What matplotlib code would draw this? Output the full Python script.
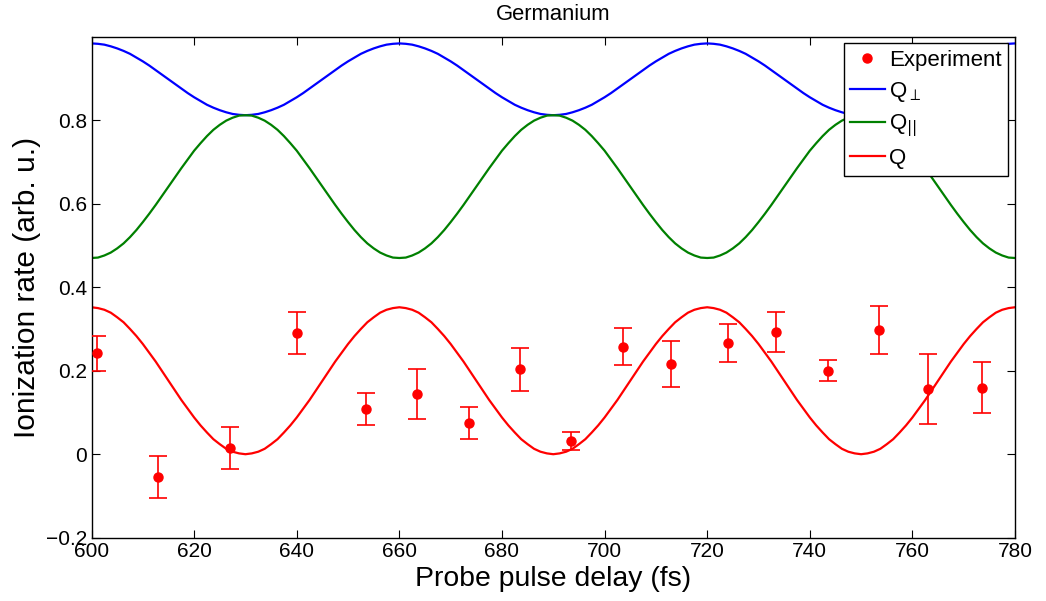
import numpy as np
import matplotlib
matplotlib.use("Agg")
import matplotlib.pyplot as plt
from matplotlib.lines import Line2D

plt.rcParams['font.family'] = ['Liberation Sans', 'DejaVu Sans']
plt.rcParams['mathtext.fontset'] = 'dejavusans'

curve_delay = np.arange(600, 780.01, 1.25)
q_perp = [
    0.984, 0.983, 0.981, 0.977, 0.972, 0.966, 0.959, 0.950, 0.941, 0.931, 0.920, 0.909,
    0.898, 0.887, 0.876, 0.865, 0.855, 0.846, 0.837, 0.830, 0.824, 0.819, 0.815, 0.813,
    0.812, 0.813, 0.815, 0.819, 0.824, 0.830, 0.837, 0.846, 0.855, 0.865, 0.876, 0.887,
    0.898, 0.909, 0.920, 0.931, 0.941, 0.950, 0.959, 0.966, 0.972, 0.977, 0.981, 0.983,
    0.984, 0.983, 0.981, 0.977, 0.972, 0.966, 0.959, 0.950, 0.941, 0.931, 0.920, 0.909,
    0.898, 0.887, 0.876, 0.865, 0.855, 0.846, 0.837, 0.830, 0.824, 0.819, 0.815, 0.813,
    0.812, 0.813, 0.815, 0.819, 0.824, 0.830, 0.837, 0.846, 0.855, 0.865, 0.876, 0.887,
    0.898, 0.909, 0.920, 0.931, 0.941, 0.950, 0.959, 0.966, 0.972, 0.977, 0.981, 0.983,
    0.984, 0.983, 0.981, 0.977, 0.972, 0.966, 0.959, 0.950, 0.941, 0.931, 0.920, 0.909,
    0.898, 0.887, 0.876, 0.865, 0.855, 0.846, 0.837, 0.830, 0.824, 0.819, 0.815, 0.813,
    0.812, 0.813, 0.815, 0.819, 0.824, 0.830, 0.837, 0.846, 0.855, 0.865, 0.876, 0.887,
    0.898, 0.909, 0.920, 0.931, 0.941, 0.950, 0.959, 0.966, 0.972, 0.977, 0.981, 0.983,
    0.984,
]
q_par = [
    0.470, 0.471, 0.476, 0.483, 0.493, 0.505, 0.520, 0.537, 0.556, 0.576, 0.597, 0.619,
    0.641, 0.663, 0.685, 0.706, 0.727, 0.745, 0.762, 0.777, 0.789, 0.799, 0.806, 0.811,
    0.812, 0.811, 0.806, 0.799, 0.789, 0.777, 0.762, 0.745, 0.727, 0.706, 0.685, 0.663,
    0.641, 0.619, 0.597, 0.576, 0.556, 0.537, 0.520, 0.505, 0.493, 0.483, 0.476, 0.471,
    0.470, 0.471, 0.476, 0.483, 0.493, 0.505, 0.520, 0.537, 0.556, 0.576, 0.597, 0.619,
    0.641, 0.663, 0.685, 0.706, 0.727, 0.745, 0.762, 0.777, 0.789, 0.799, 0.806, 0.811,
    0.812, 0.811, 0.806, 0.799, 0.789, 0.777, 0.762, 0.745, 0.727, 0.706, 0.685, 0.663,
    0.641, 0.619, 0.597, 0.576, 0.556, 0.537, 0.520, 0.505, 0.493, 0.483, 0.476, 0.471,
    0.470, 0.471, 0.476, 0.483, 0.493, 0.505, 0.520, 0.537, 0.556, 0.576, 0.597, 0.619,
    0.641, 0.663, 0.685, 0.706, 0.727, 0.745, 0.762, 0.777, 0.789, 0.799, 0.806, 0.811,
    0.812, 0.811, 0.806, 0.799, 0.789, 0.777, 0.762, 0.745, 0.727, 0.706, 0.685, 0.663,
    0.641, 0.619, 0.597, 0.576, 0.556, 0.537, 0.520, 0.505, 0.493, 0.483, 0.476, 0.471,
    0.470,
]
q_total = [
    0.352, 0.350, 0.346, 0.339, 0.328, 0.316, 0.300, 0.283, 0.264, 0.243, 0.222, 0.199,
    0.176, 0.153, 0.130, 0.109, 0.088, 0.069, 0.052, 0.036, 0.024, 0.013, 0.006, 0.002,
    0.000, 0.002, 0.006, 0.013, 0.024, 0.036, 0.052, 0.069, 0.088, 0.109, 0.130, 0.153,
    0.176, 0.199, 0.222, 0.243, 0.264, 0.283, 0.300, 0.316, 0.328, 0.339, 0.346, 0.350,
    0.352, 0.350, 0.346, 0.339, 0.328, 0.316, 0.300, 0.283, 0.264, 0.243, 0.222, 0.199,
    0.176, 0.153, 0.130, 0.109, 0.088, 0.069, 0.052, 0.036, 0.024, 0.013, 0.006, 0.002,
    0.000, 0.002, 0.006, 0.013, 0.024, 0.036, 0.052, 0.069, 0.088, 0.109, 0.130, 0.153,
    0.176, 0.199, 0.222, 0.243, 0.264, 0.283, 0.300, 0.316, 0.328, 0.339, 0.346, 0.350,
    0.352, 0.350, 0.346, 0.339, 0.328, 0.316, 0.300, 0.283, 0.264, 0.243, 0.222, 0.199,
    0.176, 0.153, 0.130, 0.109, 0.088, 0.069, 0.052, 0.036, 0.024, 0.013, 0.006, 0.002,
    0.000, 0.002, 0.006, 0.013, 0.024, 0.036, 0.052, 0.069, 0.088, 0.109, 0.130, 0.153,
    0.176, 0.199, 0.222, 0.243, 0.264, 0.283, 0.300, 0.316, 0.328, 0.339, 0.346, 0.350,
    0.352,
]

# experiment
exp_delay = [601, 613, 627, 640, 653.5, 663.5, 673.5, 683.5, 693.5, 703.5,
             713, 724, 733.5, 743.5, 753.5, 763, 773.5]
exp_rate = [0.242, -0.055, 0.014, 0.291, 0.108, 0.145, 0.075, 0.203, 0.032, 0.258,
            0.216, 0.267, 0.293, 0.200, 0.298, 0.156, 0.159]
exp_err = [0.042, 0.050, 0.050, 0.050, 0.039, 0.060, 0.039, 0.051, 0.021, 0.045,
           0.056, 0.046, 0.048, 0.025, 0.057, 0.083, 0.061]

x_ticks = [600, 620, 640, 660, 680, 700, 720, 740, 760, 780]
y_ticks = [-0.2, 0, 0.2, 0.4, 0.6, 0.8]
y_ticklabels = ['\u22120.2', '0', '0.2', '0.4', '0.6', '0.8']

fig = plt.figure(figsize=(10.46, 6.01), dpi=100)
ax = fig.add_axes([0.0875, 0.1053, 0.8829, 0.8336])

ax.errorbar(exp_delay, exp_rate, yerr=exp_err, fmt='o', color='#ff0000',
            ms=6.5, elinewidth=1.2, capsize=6.3, capthick=1.2, zorder=3)
ax.plot(curve_delay, q_perp, color='#0000ff', lw=1.6)
ax.plot(curve_delay, q_par, color='#008000', lw=1.6)
ax.plot(curve_delay, q_total, color='#ff0000', lw=1.6)

ax.set_xlim(600, 780)
ax.set_ylim(-0.2, 1.0)
ax.set_xticks(x_ticks)
ax.set_yticks(y_ticks)
ax.set_yticklabels(y_ticklabels)
ax.tick_params(direction='in', length=6, width=0.8, labelsize=15, top=True, right=True, pad=3)
for s in ax.spines.values():
    s.set_linewidth(1.0)

ax.set_title('Germanium', fontsize=15.8, pad=12)
ax.set_xlabel('Probe pulse delay (fs)', fontsize=20.4, labelpad=4)
ax.set_ylabel('Ionization rate (arb. u.)', fontsize=21.5, labelpad=4)

handles = [
    Line2D([], [], ls='none', marker='o', color='#ff0000', ms=6.5),
    Line2D([], [], color='#0000ff', lw=1.6),
    Line2D([], [], color='#008000', lw=1.6),
    Line2D([], [], color='#ff0000', lw=1.6),
]
labels = ['Experiment', r'Q$_{\perp}$', r'Q$_{||}$', 'Q']
leg = ax.legend(handles, labels, loc='upper right', fontsize=16, fancybox=False,
                framealpha=1, edgecolor='black', handlelength=1.55, handletextpad=0.2,
                labelspacing=0.4, borderpad=0.3, borderaxespad=0.3)
leg.get_frame().set_linewidth(1.0)

fig.savefig('out.png', dpi=100)
